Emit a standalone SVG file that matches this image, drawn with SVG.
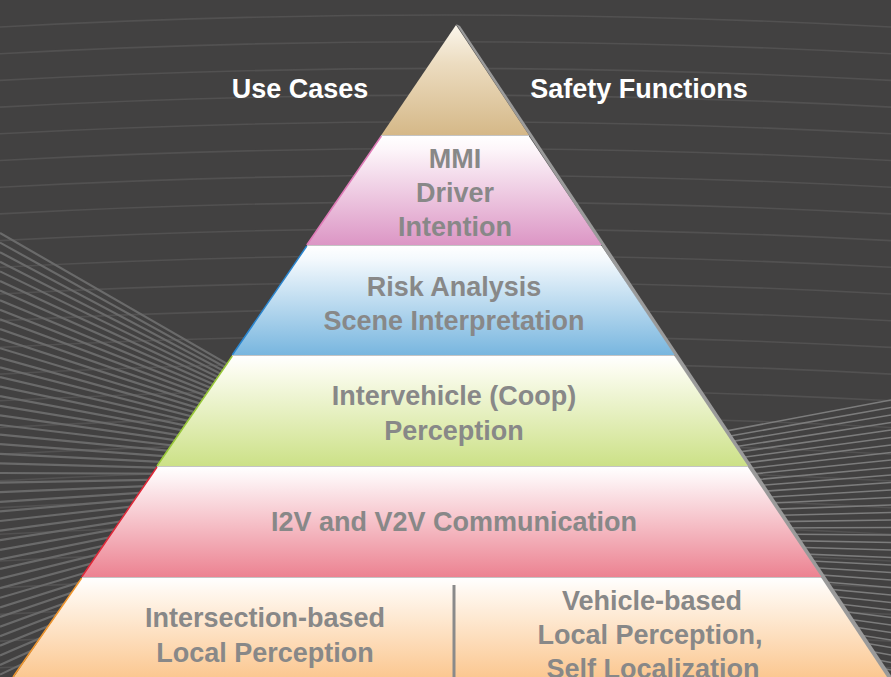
<svg xmlns="http://www.w3.org/2000/svg" width="891" height="677" viewBox="0 0 891 677">
<defs>
<linearGradient id="gTan" x1="0" y1="0" x2="0" y2="1"><stop offset="0" stop-color="#fbf6ec"/><stop offset="0.35" stop-color="#ecdcc0"/><stop offset="1" stop-color="#d5b888"/></linearGradient>
<linearGradient id="gPink" x1="0" y1="0" x2="0" y2="1"><stop offset="0" stop-color="#ffffff"/><stop offset="0.12" stop-color="#fdf6fa"/><stop offset="1" stop-color="#dc96c5"/></linearGradient>
<linearGradient id="gBlue" x1="0" y1="0" x2="0" y2="1"><stop offset="0" stop-color="#ffffff"/><stop offset="0.12" stop-color="#f4f9fd"/><stop offset="1" stop-color="#78b6df"/></linearGradient>
<linearGradient id="gGreen" x1="0" y1="0" x2="0" y2="1"><stop offset="0" stop-color="#ffffff"/><stop offset="0.12" stop-color="#fbfcef"/><stop offset="1" stop-color="#cce187"/></linearGradient>
<linearGradient id="gRed" x1="0" y1="0" x2="0" y2="1"><stop offset="0" stop-color="#ffffff"/><stop offset="0.12" stop-color="#fdf1f3"/><stop offset="1" stop-color="#ec8291"/></linearGradient>
<linearGradient id="gOrange" x1="0" y1="0" x2="0" y2="1"><stop offset="0" stop-color="#ffffff"/><stop offset="0.12" stop-color="#fff8f0"/><stop offset="1" stop-color="#fbc68e"/></linearGradient>
<style>
.bg{fill:#424141}
.hl{fill:none;stroke:#525151;stroke-width:1.6}
.lf{fill:none;stroke:#6a6a6a;stroke-width:2.2}
.rf{fill:none;stroke:#7c7c7c;stroke-width:1.6}
.t{font-family:"Liberation Sans",Arial,sans-serif;font-weight:bold;font-size:27px;fill:#888888;text-anchor:middle}
.h{font-family:"Liberation Sans",Arial,sans-serif;font-weight:bold;font-size:27px;fill:#ffffff;text-anchor:middle}
.sep{stroke:#c4c4c4;stroke-width:1}
</style>
</defs>
<rect class="bg" x="0" y="0" width="891" height="677"/>
<g id="background-lines">
<path class="hl" d="M0,27Q445,3 891,27M0,53.7Q445,29.7 891,53.7M0,80.4Q445,56.4 891,80.4M0,107.1Q445,83.1 891,107.1M0,133.8Q445,109.8 891,133.8M0,160.5Q445,136.5 891,160.5M0,187.2Q445,163.2 891,187.2M0,213.9Q445,189.9 891,213.9M0,240.6Q445,216.6 891,240.6M0,267.3Q445,243.3 891,267.3M0,294Q445,270 891,294M0,320.7Q445,296.7 891,320.7M0,347.4Q445,323.4 891,347.4M0,374.1Q445,350.1 891,374.1M0,400.8Q445,376.8 891,400.8M0,427.5Q445,403.5 891,427.5M0,454.2Q445,430.2 891,454.2M0,480.9Q445,456.9 891,480.9M0,507.6Q445,483.6 891,507.6M0,534.3Q445,510.3 891,534.3M0,561Q445,537 891,561M0,587.7Q445,563.7 891,587.7M0,614.4Q445,590.4 891,614.4M0,641.1Q445,617.1 891,641.1M0,667.8Q445,643.8 891,667.8"/>
<path class="lf" d="M0,233L420,475M0,242.6L420,475M0,252.2L420,475M0,261.8L420,475M0,271.4L420,475M0,281L420,475M0,290.6L420,475M0,300.2L420,475M0,309.8L420,475M0,319.4L420,475M0,329L420,475M0,338.6L420,475M0,348.2L420,475M0,357.8L420,475M0,367.4L420,475M0,377L420,475M0,386.6L420,475M0,396.2L420,475M0,405.8L420,475M0,415.4L420,475M0,425L420,475M0,434.6L420,475M0,444.2L420,475M0,453.8L420,475M0,463.4L420,475M0,473L420,475M0,482.6L420,475M0,492.2L420,475M0,501.8L420,475M0,511.4L420,475M0,521L420,475M0,530.6L420,475M0,540.2L420,475M0,549.8L420,475M0,559.4L420,475M0,569L420,475M0,578.6L420,475M0,588.2L420,475M0,597.8L420,475M0,607.4L420,475M0,617L420,475M0,626.6L420,475M0,636.2L420,475M0,645.8L420,475M0,655.4L420,475M0,665L420,475M0,674.6L420,475"/>
<path class="rf" d="M891,400L200,530M891,407.5L200,530M891,415L200,530M891,422.5L200,530M891,430L200,530M891,437.5L200,530M891,445L200,530M891,452.5L200,530M891,460L200,530M891,467.5L200,530M891,475L200,530M891,482.5L200,530M891,490L200,530M891,497.5L200,530M891,505L200,530M891,512.5L200,530M891,520L200,530M891,527.5L200,530M891,535L200,530M891,542.5L200,530M891,550L200,530M891,557.5L200,530M891,565L200,530M891,572.5L200,530M891,580L200,530M891,587.5L200,530M891,595L200,530M891,602.5L200,530M891,610L200,530M891,617.5L200,530M891,625L200,530M891,632.5L200,530M891,640L200,530M891,647.5L200,530M891,655L200,530M891,662.5L200,530M891,670L200,530M891,677.5L200,530"/>
</g>
<g id="pyramid-shadow">
<polygon points="456,24 460,26 892,677 885,677" fill="#9a9a9a"/>
</g>
<g id="connectors"></g>
<g id="layer-top">
<polygon points="456,25 528.8,135 381.4,135" fill="url(#gTan)"/>
</g>
<g id="layer-mmi">
<polygon points="381.4,136 528.8,136 601.6,245 306.8,245" fill="url(#gPink)"/>
<line x1="381.4" y1="136" x2="306.8" y2="245" stroke="#e07ab8" stroke-width="1.5"/>
<line class="sep" x1="381" y1="135.5" x2="529" y2="135.5"/>
<text class="t" x="455" y="168">MMI</text>
<text class="t" x="455" y="202">Driver</text>
<text class="t" x="455" y="236">Intention</text>
</g>
<g id="layer-risk">
<polygon points="306.8,246 601.6,246 674.5,355 232.3,355" fill="url(#gBlue)"/>
<line x1="306.8" y1="246" x2="232.3" y2="355" stroke="#2a86d0" stroke-width="1.5"/>
<line class="sep" x1="307" y1="245.5" x2="601" y2="245.5"/>
<text class="t" x="454" y="296">Risk Analysis</text>
<text class="t" x="454" y="330">Scene Interpretation</text>
</g>
<g id="layer-coop">
<polygon points="232.3,356 674.5,356 747.9,466 157,466" fill="url(#gGreen)"/>
<line x1="232.3" y1="356" x2="157" y2="466" stroke="#98c838" stroke-width="1.5"/>
<line class="sep" x1="232" y1="355.5" x2="674" y2="355.5"/>
<text class="t" x="454" y="405">Intervehicle (Coop)</text>
<text class="t" x="454" y="440">Perception</text>
</g>
<g id="layer-comm">
<polygon points="157,467 747.9,467 821.4,577 81.7,577" fill="url(#gRed)"/>
<line x1="157" y1="467" x2="81.7" y2="577" stroke="#e02838" stroke-width="1.5"/>
<line class="sep" x1="157" y1="466.5" x2="748" y2="466.5"/>
<text class="t" x="454" y="531">I2V and V2V Communication</text>
</g>
<g id="layer-perception">
<polygon points="81.7,578 821.4,578 889,680 11.8,680" fill="url(#gOrange)"/>
<line x1="81.7" y1="578" x2="13" y2="677" stroke="#f0962e" stroke-width="1.5"/>
<line class="sep" x1="82" y1="577.5" x2="821" y2="577.5"/>
<line x1="454" y1="585" x2="454" y2="677" stroke="#8a8a8a" stroke-width="3"/>
<text class="t" x="265" y="627">Intersection-based</text>
<text class="t" x="265" y="662">Local Perception</text>
<text class="t" x="652" y="610">Vehicle-based</text>
<text class="t" x="650" y="644">Local Perception,</text>
<text class="t" x="653" y="678">Self Localization</text>
</g>
<g id="headings">
<text class="h" x="300" y="98">Use Cases</text>
<text class="h" x="639" y="98">Safety Functions</text>
</g>
</svg>
